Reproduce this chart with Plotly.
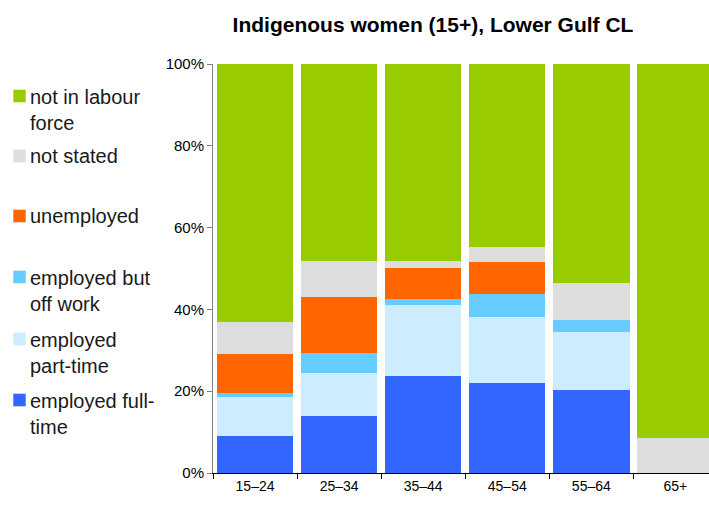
import plotly.graph_objects as go

categories = ["15–24", "25–34", "35–44", "45–54", "55–64", "65+"]
employed_full_time = [9.1, 14.0, 23.8, 22.1, 20.2, 0.0]
employed_part_time = [9.4, 10.5, 17.2, 16.1, 14.2, 0.0]
employed_off_work = [1.0, 4.9, 1.6, 5.5, 2.9, 0.0]
unemployed = [9.7, 13.7, 7.6, 7.8, 0.0, 0.0]
not_stated = [7.8, 8.8, 1.7, 3.8, 9.2, 8.5]
not_in_labour_force = [63.0, 48.1, 48.1, 44.7, 53.5, 91.5]
y_tick_values = [0, 20, 40, 60, 80, 100]
y_tick_labels = ["0%", "20%", "40%", "60%", "80%", "100%"]

series_names = ["employed full-<br>time", "employed<br>part-time", "employed but<br>off work",
                "unemployed", "not stated", "not in labour<br>force"]
series_values = [employed_full_time, employed_part_time, employed_off_work,
                 unemployed, not_stated, not_in_labour_force]
series_colors = ["#3366FF", "#CCECFF", "#66CCFF", "#FF6600", "#DDDDDD", "#99CC00"]

# body margin is removed in the page, so the figure fills the 709x506 window
W, H = 709, 506
L, R, T, B = 213, 0, 64, 33
PW, PH = W - L - R, H - T - B


def px_to_paper_x(px):
    return (px - L) / PW


def py_to_paper_y(py):
    return (H - B - py) / PH


fig = go.Figure()
for name, vals, color in zip(series_names, series_values, series_colors):
    fig.add_trace(go.Bar(
        x=categories, y=vals, name=name,
        marker=dict(color=color, line=dict(width=0)),
        hoverinfo="skip", showlegend=False,
    ))

# legend drawn as squares + text (top entry = last series)
first_line_centres = [400, 339, 277, 216, 156, 96]
annotations = []
shapes = []
for name, color, cy in zip(series_names, series_colors, first_line_centres):
    nlines = name.count("<br>") + 1
    text_centre = cy + (nlines - 1) * 27 / 2
    annotations.append(dict(
        text=name, xref="paper", yref="paper",
        x=px_to_paper_x(28), y=py_to_paper_y(text_centre),
        xanchor="left", yanchor="middle", align="left",
        showarrow=False, font=dict(size=20, color="#1a1a1a"),
    ))
    shapes.append(dict(
        type="rect", xref="paper", yref="paper",
        x0=px_to_paper_x(13.3), x1=px_to_paper_x(25.7),
        y0=py_to_paper_y(cy - 6.3), y1=py_to_paper_y(cy + 6.3),
        fillcolor=color, line=dict(width=0), layer="above",
    ))

fig.update_layout(
    width=W, height=H,
    barmode="stack", bargap=0.09,
    plot_bgcolor="white", paper_bgcolor="white",
    margin=dict(l=L, r=R, t=T, b=B, autoexpand=False),
    font=dict(family="Liberation Sans, Arial, sans-serif", color="black"),
    title=dict(
        text="<b>Indigenous women (15+), Lower Gulf CL</b>",
        x=433 / W, xanchor="center", xref="container",
        y=1 - 25 / H, yanchor="middle", yref="container",
        font=dict(size=21, color="black"),
    ),
    showlegend=False,
    hovermode=False,
    annotations=annotations,
    shapes=shapes,
    xaxis=dict(
        type="category",
        range=[-0.5, 5.4],
        showline=True, linecolor="black", linewidth=1,
        ticks="outside", tickson="boundaries", ticklen=5, tickcolor="black",
        tickfont=dict(size=14),
        showgrid=False, zeroline=False,
    ),
    yaxis=dict(
        range=[0, 100],
        tickvals=y_tick_values, ticktext=y_tick_labels,
        showline=True, linecolor="#808080", linewidth=1,
        ticks="outside", ticklen=5, tickcolor="#808080",
        tickfont=dict(size=15),
        showgrid=False, zeroline=False,
    ),
)

fig.write_html(
    "out.html",
    config={"displayModeBar": False, "staticPlot": True},
    post_script="document.body.style.margin='0';document.body.style.overflow='hidden';",
)
